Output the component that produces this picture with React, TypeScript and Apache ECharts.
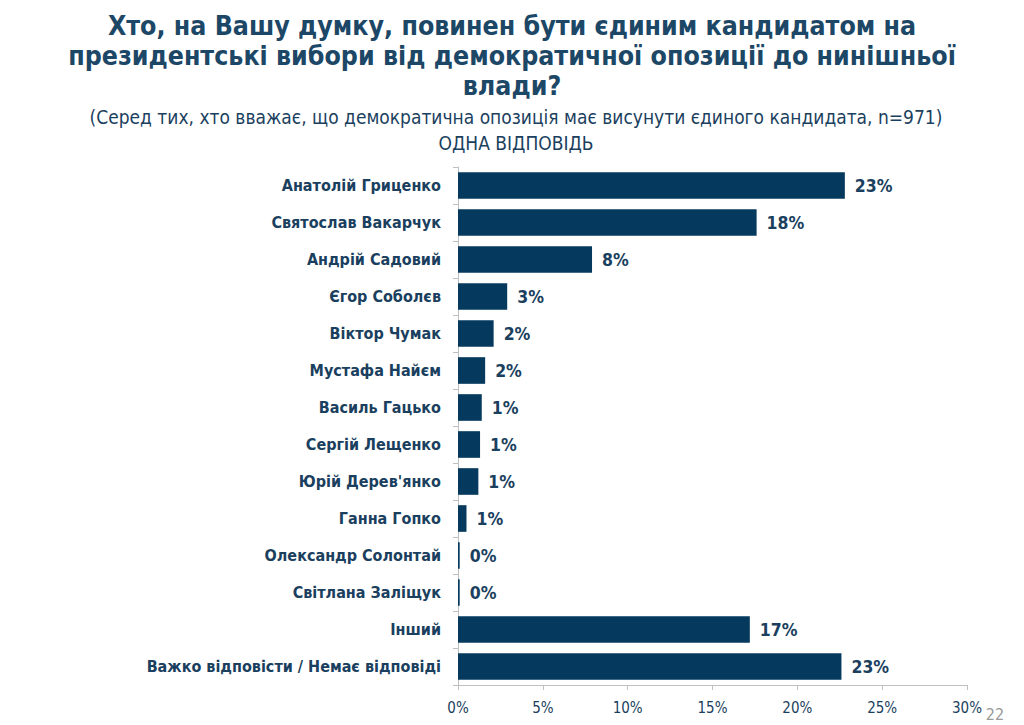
import React, { useEffect, useRef } from "react";
import * as echarts from "echarts";

const categories = [
  "Анатолій Гриценко",
  "Святослав Вакарчук",
  "Андрій Садовий",
  "Єгор Соболєв",
  "Віктор Чумак",
  "Мустафа Найєм",
  "Василь Гацько",
  "Сергій Лещенко",
  "Юрій Дерев'янко",
  "Ганна Гопко",
  "Олександр Солонтай",
  "Світлана Заліщук",
  "Інший",
  "Важко відповісти / Немає відповіді",
];
const values = [22.8, 17.6, 7.9, 2.9, 2.1, 1.6, 1.4, 1.3, 1.2, 0.5, 0.1, 0.1, 17.2, 22.6];
const valueLabels = ["23%", "18%", "8%", "3%", "2%", "2%", "1%", "1%", "1%", "1%", "0%", "0%", "17%", "23%"];
const xTicks = [0, 5, 10, 15, 20, 25, 30];

const titleLines = [
  "Хто, на Вашу думку, повинен бути єдиним кандидатом на",
  "президентські вибори від демократичної опозиції до нинішньої",
  "влади?",
];
const subtitle = "(Серед тих, хто вважає, що демократична опозиція має висунути єдиного кандидата, n=971)";
const subtitle2 = "ОДНА ВІДПОВІДЬ";

const NAVY = "#053A5E";
const TEXT = "#1B3F5E";
const FONT = "'DejaVu Sans Condensed', 'DejaVu Sans', sans-serif";

export default function App() {
  const ref = useRef<HTMLDivElement>(null);
  useEffect(() => {
    const chart = echarts.init(ref.current!, null, { renderer: "svg" });
    chart.setOption({
      animation: false,
      backgroundColor: "#ffffff",
      graphic: [
        ...titleLines.map((t, i) => ({
          type: "text",
          x: 512,
          y: 25 + i * 30,
          style: {
            text: t,
            fill: "#1D4766",
            font: `bold 26.5px ${FONT}`,
            textAlign: "center",
            textVerticalAlign: "middle",
          },
        })),
        {
          type: "text",
          x: 516,
          y: 117,
          style: { text: subtitle, fill: TEXT, font: `19px ${FONT}`, textAlign: "center", textVerticalAlign: "middle" },
        },
        {
          type: "text",
          x: 516,
          y: 143,
          style: { text: subtitle2, fill: TEXT, font: `19px ${FONT}`, textAlign: "center", textVerticalAlign: "middle" },
        },
        {
          type: "text",
          x: 995,
          y: 714,
          style: { text: "22", fill: "#9a9a9a", font: `16px ${FONT}`, textAlign: "center", textVerticalAlign: "middle" },
        },
      ],
      grid: { left: 458, right: 57, top: 167, bottom: 40, containLabel: false },
      xAxis: {
        type: "value",
        min: 0,
        max: 30,
        interval: 5,
        axisLine: { show: true, lineStyle: { color: "#bfbfbf" } },
        axisTick: { show: true, length: 5, lineStyle: { color: "#bfbfbf" } },
        splitLine: { show: false },
        axisLabel: {
          color: TEXT,
          fontFamily: FONT,
          fontSize: 15,
          margin: 15,
          formatter: (v: number) => (xTicks.includes(v) ? `${v}%` : ""),
        },
      },
      yAxis: {
        type: "category",
        inverse: true,
        data: categories,
        axisLine: { show: true, lineStyle: { color: "#bfbfbf" } },
        axisTick: { show: true, length: 5, lineStyle: { color: "#bfbfbf" } },
        axisLabel: { color: TEXT, fontFamily: FONT, fontSize: 16, fontWeight: "bold", margin: 17 },
      },
      series: [
        {
          type: "bar",
          data: values,
          barCategoryGap: "28%",
          itemStyle: { color: NAVY },
          label: {
            show: true,
            position: "right",
            distance: 10,
            color: TEXT,
            fontFamily: FONT,
            fontSize: 17.5,
            fontWeight: "bold",
            formatter: (p: any) => valueLabels[p.dataIndex],
          },
        },
      ],
    });
    return () => chart.dispose();
  }, []);
  return <div ref={ref} style={{ position: "fixed", left: 0, top: 0, width: 1024, height: 725 }} />;
}
